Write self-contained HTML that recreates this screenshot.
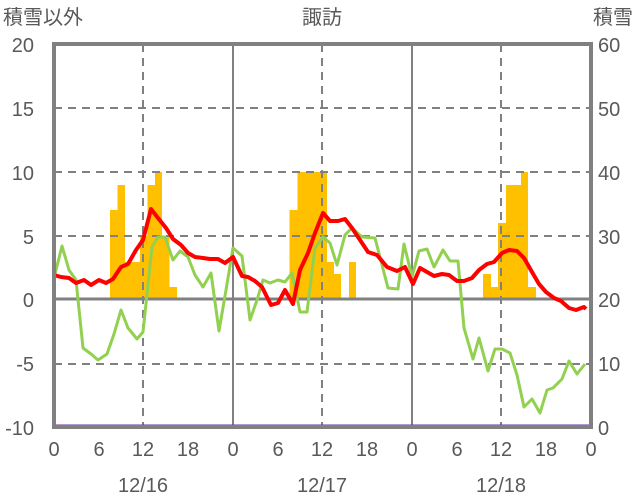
<!DOCTYPE html>
<html><head><meta charset="utf-8"><style>
html,body{margin:0;padding:0;background:#fff;}
svg{display:block;}
text{font-family:"Liberation Sans","Noto Sans CJK JP",sans-serif;fill:#595959;font-size:20px;}
</style></head><body>
<svg width="636" height="501" viewBox="0 0 636 501" xmlns="http://www.w3.org/2000/svg">
<!-- bars -->
<g fill="#FFC000">
<rect x="110" y="210" width="7.5" height="89"/>
<rect x="117.5" y="185" width="7.5" height="114"/>
<rect x="125" y="262" width="15" height="37"/>
<rect x="140" y="236" width="7.5" height="63"/>
<rect x="147.5" y="185" width="7.5" height="114"/>
<rect x="155" y="172" width="7" height="127"/>
<rect x="162" y="236" width="7.5" height="63"/>
<rect x="169.5" y="287" width="7.5" height="12"/>
<rect x="289.5" y="210" width="8" height="89"/>
<rect x="297.5" y="172" width="29.5" height="127"/>
<rect x="327" y="262" width="7" height="37"/>
<rect x="334" y="274" width="7" height="25"/>
<rect x="349" y="262" width="7" height="37"/>
<rect x="483" y="274" width="8" height="25"/>
<rect x="491" y="287" width="7" height="12"/>
<rect x="498" y="223" width="8" height="76"/>
<rect x="506" y="185" width="15" height="114"/>
<rect x="521" y="172" width="7" height="127"/>
<rect x="528" y="287" width="8" height="12"/>
</g>
<!-- grid -->
<g stroke="#808080" stroke-width="2" stroke-dasharray="8,6" fill="none">
<line x1="54" y1="108" x2="591" y2="108"/>
<line x1="54" y1="172" x2="591" y2="172"/>
<line x1="54" y1="236" x2="591" y2="236"/>
<line x1="54" y1="364" x2="591" y2="364"/>
<line x1="143" y1="44" x2="143" y2="427"/>
<line x1="322" y1="44" x2="322" y2="427"/>
<line x1="501" y1="44" x2="501" y2="427"/>
</g>
<g stroke="#808080" stroke-width="2">
<line x1="233" y1="44" x2="233" y2="427"/>
<line x1="412" y1="44" x2="412" y2="427"/>
<line x1="54" y1="299" x2="591" y2="299" stroke-width="3"/>
</g>
<!-- green -->
<polyline fill="none" stroke="#92D050" stroke-width="3" stroke-linejoin="round" points="54,278 62,246 69,270 76,280 83,348 91,354 98,360 107,354 114,334 121,310 128,328 137,339 143,332 152,247 158,237 165,237 173,260 180,251 188,257 195,275 203,287 211,273 219,331 226,290 233,248 242,256 250,320 257,300 263,280 270,283 278,280 285,282 292,273 300,312 307,312 315,248 323,237 330,243 337,265 345,235 352,228 362,237 375,238 388,288 398,289 404,244 412,277 419,251 427,249 434,267 443,250 450,261 458,261 464,328 473,359 479,338 488,371 495,349 502,349 510,353 517,375 524,407 532,399 540,413 547,390 553,388 562,379 569,361 577,374 585,364"/>
<!-- red -->
<polyline fill="none" stroke="#FF0000" stroke-width="4" stroke-linejoin="round" points="54,275 61,277 69,278 76,283 84,280 91,285 99,280 106,283 113,279 121,267 128,264 136,250 143,240 151,209 158,218 166,228 173,239 181,245 188,253 195,257 203,258 210,259 218,259 225,263 233,257 242,276 248,277 255,281 262,287 271,305 278,303 285,290 293,304 300,270 308,253 315,233 323,213 330,221 338,221 345,219 352,228 358,237 368,252 377,255 387,267 397,271 405,267 413,284 420,268 427,272 434,276 442,274 449,275 457,281 464,281 472,278 479,270 487,264 494,262 502,253 509,250 517,251 524,258 532,272 539,284 546,292 554,298 561,301 569,308 576,310 584,307 586,309"/>
<!-- purple -->
<line x1="54" y1="426" x2="591" y2="426" stroke="#7030A0" stroke-width="3"/>
<!-- frame -->
<rect x="54" y="44" width="537" height="383" fill="none" stroke="#808080" stroke-width="4"/>
<!-- labels -->
<text x="3" y="24">積雪以外</text>
<text x="322" y="24" text-anchor="middle">諏訪</text>
<text x="633" y="24" text-anchor="end">積雪</text>
<g text-anchor="end">
<text x="34" y="52">20</text><text x="34" y="116">15</text><text x="34" y="180">10</text>
<text x="34" y="244">5</text><text x="34" y="307">0</text><text x="34" y="371">-5</text><text x="34" y="435">-10</text>
</g>
<g text-anchor="start">
<text x="598" y="52">60</text><text x="598" y="116">50</text><text x="598" y="180">40</text>
<text x="598" y="244">30</text><text x="598" y="307">20</text><text x="598" y="371">10</text><text x="598" y="435">0</text>
</g>
<g text-anchor="middle">
<text x="54" y="456">0</text><text x="99" y="456">6</text><text x="143" y="456">12</text><text x="188" y="456">18</text>
<text x="233" y="456">0</text><text x="278" y="456">6</text><text x="322" y="456">12</text><text x="367" y="456">18</text>
<text x="412" y="456">0</text><text x="457" y="456">6</text><text x="501" y="456">12</text><text x="546" y="456">18</text>
<text x="591" y="456">0</text>
<text x="143" y="492">12/16</text><text x="322" y="492">12/17</text><text x="501" y="492">12/18</text>
</g>
</svg>
</body></html>
